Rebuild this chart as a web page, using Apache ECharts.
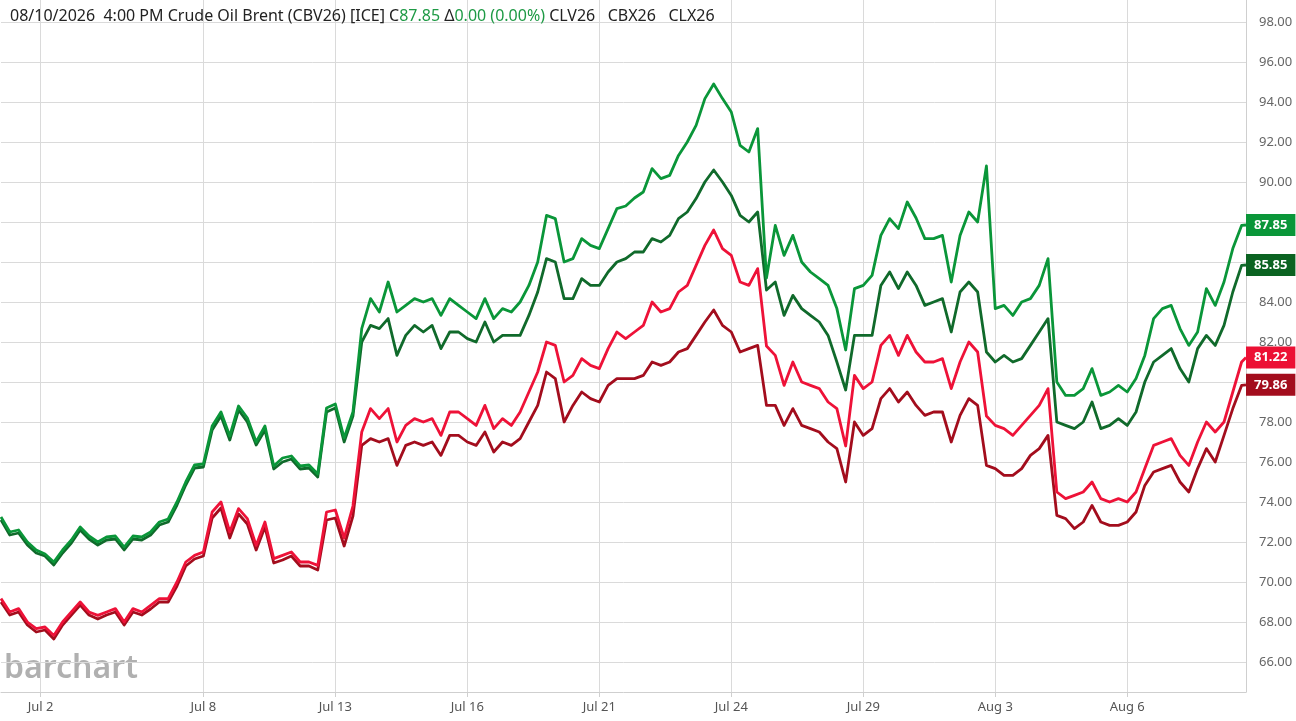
<!DOCTYPE html>
<html><head><meta charset="utf-8">
<script src="https://cdn.jsdelivr.net/npm/echarts@6/dist/echarts.min.js"></script>
<style>html,body{margin:0;padding:0;background:#fff}#c{width:1296px;height:721px}</style>
</head><body><div id="c"></div>
<script>
// x-axis tick labels and the trading-time slot where each sits
const tickLabels = ['Jul 2','Jul 8','Jul 13','Jul 16','Jul 21','Jul 24','Jul 29','Aug 3','Aug 6'];
const tickSlots = [9, 46, 76, 106, 136, 166, 196, 226, 256];
const slotCount = 284;      // intraday time slots across the chart
const sampleEvery = 2;      // one reading every 2 slots

// y-axis ticks
const yMin = 66, yMax = 98, yStep = 2;

// Series readings (sampled every 2 slots, last = final print)
const cbv26 = [73.25,72.5,72.6,72.0,71.6,71.4,71.0,71.6,72.1,72.75,72.3,72.0,72.25,72.3,71.75,72.3,72.25,72.5,73.0,73.15,74.0,75.0,75.85,75.9,77.8,78.5,77.3,78.8,78.2,77.0,77.8,75.8,76.2,76.3,75.8,75.85,75.4,
78.7,78.9,77.2,78.5,82.67,84.17,83.5,85.0,83.5,83.83,84.17,84.0,84.17,83.33,84.17,83.83,83.5,83.17,84.17,83.17,83.67,83.5,84.0,84.83,86.0,88.33,88.17,86.0,86.17,87.17,86.83,86.67,87.67,88.67,
88.8,89.2,89.5,90.67,90.17,90.33,91.33,92.0,92.83,94.17,94.9,94.17,93.5,91.83,91.5,92.67,85.2,87.83,86.33,87.33,86.0,85.5,85.17,84.83,83.67,81.6,84.67,84.83,85.33,87.33,88.17,87.67,89.0,88.2,87.17,87.17,87.33,
85.0,87.33,88.5,88.0,90.8,83.67,83.83,83.33,84.0,84.17,84.83,86.17,80.0,79.33,79.33,79.67,80.67,79.33,79.5,79.83,79.5,80.17,81.33,83.17,83.67,83.83,82.67,81.83,82.5,84.67,83.83,85.0,86.67,87.83,87.85];

const clv26 = [73.1,72.35,72.45,71.85,71.45,71.3,70.85,71.45,71.95,72.6,72.15,71.85,72.1,72.15,71.6,72.15,72.1,72.35,72.85,73.0,73.85,74.85,75.7,75.75,77.6,78.3,77.1,78.6,78.0,76.85,77.6,75.65,76.0,76.15,75.65,75.7,75.25,
78.5,78.7,77.0,78.3,82.0,82.83,82.67,83.17,81.33,82.33,82.83,82.5,82.83,81.67,82.5,82.5,82.17,82.0,83.0,82.0,82.33,82.33,82.33,83.33,84.5,86.17,86.0,84.17,84.17,85.17,84.83,84.83,85.5,86.0,
86.17,86.5,86.5,87.17,87.0,87.33,88.17,88.5,89.17,90.0,90.6,90.0,89.33,88.33,88.0,88.5,84.6,85.0,83.33,84.33,83.67,83.33,83.0,82.33,81.0,79.6,82.33,82.33,82.33,84.83,85.5,84.67,85.5,84.83,83.83,84.0,84.17,
82.5,84.5,85.0,84.5,81.5,81.0,81.33,81.0,81.17,81.83,82.5,83.17,78.0,77.83,77.67,78.0,79.0,77.67,77.83,78.17,77.83,78.5,80.0,81.0,81.33,81.67,80.67,80.0,81.67,82.33,81.83,82.83,84.5,85.83,85.85];

const cbx26 = [69.17,68.5,68.67,68.0,67.67,67.75,67.33,68.0,68.5,69.0,68.5,68.33,68.5,68.67,68.0,68.67,68.5,68.83,69.17,69.17,70.0,71.0,71.33,71.5,73.5,74.0,72.5,73.67,73.17,71.83,73.0,71.17,71.33,71.5,71.0,71.0,70.83,
73.5,73.6,72.2,73.8,77.5,78.67,78.17,78.67,77.0,77.83,78.17,78.0,78.17,77.33,78.5,78.5,78.17,77.83,78.83,77.67,78.17,77.83,78.5,79.5,80.5,82.0,81.83,80.0,80.33,81.17,80.83,80.67,81.67,82.5,
82.17,82.5,82.83,84.0,83.5,83.67,84.5,84.83,85.83,86.83,87.6,86.67,86.33,85.0,84.83,85.67,81.8,81.33,79.83,81.0,80.0,79.83,79.67,79.0,78.67,76.8,80.33,79.67,80.0,81.83,82.33,81.33,82.33,81.5,81.0,81.0,81.17,
79.67,81.0,82.0,81.5,78.3,77.83,77.67,77.33,77.83,78.33,78.83,79.67,74.5,74.17,74.33,74.5,75.0,74.17,74.0,74.17,74.0,74.5,75.67,76.83,77.0,77.17,76.33,75.83,77.0,78.0,77.5,78.0,79.5,81.0,81.22];

const clx26 = [69.0,68.35,68.5,67.85,67.5,67.6,67.15,67.85,68.35,68.85,68.35,68.15,68.35,68.5,67.85,68.5,68.35,68.65,69.0,69.0,69.8,70.8,71.15,71.3,73.2,73.7,72.2,73.4,72.9,71.6,72.75,70.95,71.1,71.3,70.8,70.8,70.6,
73.1,73.2,71.8,73.3,76.83,77.17,77.0,77.17,75.83,76.83,77.0,76.83,77.0,76.33,77.33,77.33,77.0,76.83,77.5,76.5,77.0,76.83,77.17,78.0,78.83,80.5,80.17,78.0,78.83,79.5,79.17,79.0,79.83,80.17,
80.17,80.17,80.33,81.0,80.83,81.0,81.5,81.67,82.33,83.0,83.6,82.83,82.5,81.5,81.67,81.83,78.83,78.83,77.83,78.67,77.83,77.67,77.5,77.0,76.67,75.0,78.0,77.33,77.67,79.17,79.67,79.0,79.5,78.83,78.33,78.5,78.5,
77.0,78.33,79.17,78.83,75.83,75.67,75.33,75.33,75.67,76.33,76.67,77.33,73.33,73.17,72.67,73.0,73.83,73.0,72.83,72.83,73.0,73.5,74.83,75.5,75.67,75.83,75.0,74.5,75.67,76.67,76.0,77.33,78.67,79.83,79.86];

const seriesNames = ['CLX26','CBX26','CLV26','CBV26'];
const seriesColors = ['#a30d1d','#ee1238','#106a2b','#0a9639'];
const labelColors = ['#a30d1d','#ec1034','#0b6321','#0a9639'];
const seriesValues = [clx26, cbx26, clv26, cbv26];

const categories = Array.from({length: slotCount}, (_, i) => {
  const k = tickSlots.indexOf(i);
  return k >= 0 ? tickLabels[k] : 't' + i;
});
const toPairs = arr => arr.map((v, i) => [Math.min(i * sampleEvery, slotCount - 1), v]);
const isTick = idx => tickSlots.indexOf(idx) >= 0;

const chart = echarts.init(document.getElementById('c'), null, {renderer: 'canvas'});
const FONT = 'Noto Sans';
chart.setOption({
  animation: false,
  backgroundColor: '#ffffff',
  textStyle: {fontFamily: FONT},
  title: {
    left: 5, top: 3,
    text: '{a|08/10/2026  4:00 PM Crude Oil Brent (CBV26) [ICE] C}{g|87.85 }{a|Δ}{g|0.00 (0.00%)}{a| CLV26   CBX26   CLX26}',
    textStyle: {
      fontWeight: 'normal',
      rich: {
        a: {fontFamily: FONT, fontSize: 16, fontWeight: 'normal', color: '#222'},
        g: {fontFamily: FONT, fontSize: 16, fontWeight: 'normal', color: '#1e9a45'}
      }
    }
  },
  graphic: [{
    type: 'text', left: 4, top: 653, silent: true,
    style: {text: 'barchart', fontFamily: FONT, fontSize: 32, fontWeight: 600, fill: '#b0b0b0'}
  }],
  grid: [
    {left: 1, right: 50, top: 22, bottom: 59},
    {left: 1, right: 50, top: 0, bottom: 29}
  ],
  xAxis: [
    {gridIndex: 0, type: 'category', data: categories, boundaryGap: false, show: false},
    {gridIndex: 1, type: 'category', data: categories, boundaryGap: false,
     axisLine: {show: true, lineStyle: {color: '#cfcfcf', width: 1}},
     axisTick: {show: true, interval: isTick, length: 5, lineStyle: {color: '#cfcfcf'}},
     axisLabel: {interval: isTick, color: '#555', fontSize: 13, fontFamily: FONT, margin: 9},
     splitLine: {show: true, interval: isTick, lineStyle: {color: '#dadada', width: 1}}}
  ],
  yAxis: [
    {gridIndex: 0, type: 'value', position: 'right', min: yMin, max: yMax, interval: yStep,
     axisLine: {show: false}, axisTick: {show: false},
     axisLabel: {color: '#666', fontSize: 13, fontFamily: FONT, margin: 13, formatter: v => v.toFixed(2)},
     splitLine: {show: true, lineStyle: {color: '#dadada', width: 1}}},
    {gridIndex: 1, type: 'value', position: 'right', min: 0, max: 1,
     axisLine: {show: true, lineStyle: {color: '#cfcfcf', width: 1}},
     axisTick: {show: false}, axisLabel: {show: false}, splitLine: {show: false}}
  ],
  series: seriesNames.map((name, k) => ({
    name, type: 'line', xAxisIndex: 0, yAxisIndex: 0,
    data: toPairs(seriesValues[k]),
    showSymbol: false, symbol: 'none',
    lineStyle: {color: seriesColors[k], width: 2.8, join: 'round'},
    itemStyle: {color: seriesColors[k]},
    z: 2 + k,
    endLabel: {
      show: true, distance: 0,
      formatter: p => p.value[1].toFixed(2),
      backgroundColor: labelColors[k], color: '#fff',
      fontFamily: FONT, fontSize: 13, fontWeight: 'bold',
      lineHeight: 15, padding: [4, 8, 3, 8]
    }
  }))
});
</script>
</body></html>
